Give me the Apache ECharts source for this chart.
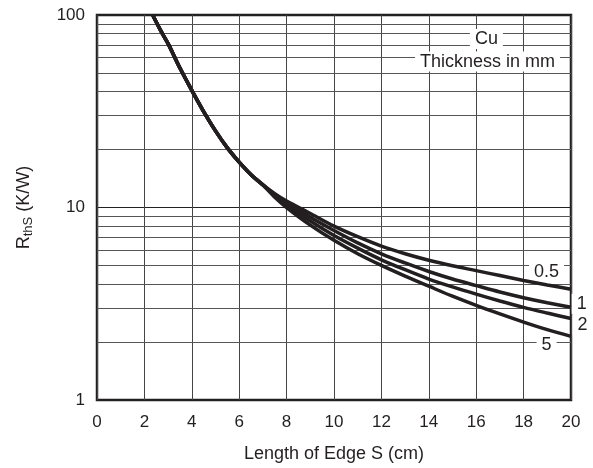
<!DOCTYPE html>
<html>
<head>
<meta charset="utf-8">
<script src="https://cdn.jsdelivr.net/npm/echarts@6/dist/echarts.min.js"></script>
<style>html,body{margin:0;padding:0;background:#fff}#c{width:593px;height:468px}</style>
</head>
<body>
<div id="c"></div>
<script>
// Common part of all curves (x in cm, R in K/W)
const commonX = [2.35, 2.7, 3, 3.5, 4, 4.5, 5, 5.5, 6, 6.5, 7];
const commonY = [100, 82.4, 71, 53, 40.6, 31.5, 25.0, 20.4, 17.2, 14.8, 13.1];
// Split part per thickness
const splitX = [7.5, 8, 9, 10, 11, 12, 13, 14, 15, 16, 17, 18, 19, 20];
const r05 = [11.8, 10.8, 9.3, 8.0, 7.05, 6.3, 5.75, 5.32, 4.98, 4.7, 4.43, 4.18, 3.96, 3.76];
const r1  = [11.7, 10.6, 8.9, 7.6, 6.55, 5.75, 5.15, 4.65, 4.25, 3.93, 3.64, 3.4, 3.2, 3.03];
const r2  = [11.5, 10.3, 8.5, 7.15, 6.15, 5.35, 4.75, 4.25, 3.87, 3.55, 3.27, 3.03, 2.83, 2.65];
const r5  = [11.3, 10.0, 8.1, 6.75, 5.75, 5.0, 4.4, 3.9, 3.46, 3.1, 2.8, 2.54, 2.32, 2.14];
const seriesNames = ['0.5', '1', '2', '5'];
// Minor horizontal grid values on log axis
const minorTicks = [2,3,4,5,6,7,8,9,20,30,40,50,60,70,80,90];
// Annotation labels [x, y, text]
const curveLabels = [[18.97, 4.62, '0.5'], [20.45, 3.16, '1'], [20.49, 2.44, '2'], [18.97, 1.94, '5']];
const titleLabels = [[16.43, 75, 'Cu'], [16.48, 57.3, 'Thickness in mm']];

function build(vals) {
  const d = commonX.map((x, i) => [x, commonY[i]]);
  splitX.forEach((x, i) => d.push([x, vals[i]]));
  return d;
}
const ink = '#231f20';
const font = 'Liberation Sans, Arial, Helvetica, sans-serif';
const chart = echarts.init(document.getElementById('c'));
const curves = [r05, r1, r2, r5].map((v, i) => ({
  name: seriesNames[i], type: 'line', data: build(v), smooth: 0.3,
  symbol: 'none', z: 4, lineStyle: { color: ink, width: 3.5 }
}));
chart.setOption({
  animation: false,
  grid: { left: 97, right: 22, top: 15, bottom: 68, show: true, borderColor: ink, borderWidth: 2.5, backgroundColor: 'transparent' },
  xAxis: {
    type: 'value', min: 0, max: 20, interval: 2,
    name: 'Length of Edge S (cm)', nameLocation: 'middle', nameGap: 45,
    nameTextStyle: { fontSize: 18, color: ink, fontFamily: font },
    axisLine: { show: false }, axisTick: { show: false },
    axisLabel: { fontSize: 17, color: ink, fontFamily: font, margin: 14 },
    splitLine: { show: true, lineStyle: { color: '#444', width: 1 } }
  },
  yAxis: {
    type: 'log', logBase: 10, min: 1, max: 100,
    name: '{r|R}{s|thS}{r| (K/W)}', nameLocation: 'middle', nameGap: 62, nameRotate: 90,
    nameTextStyle: { color: ink, fontFamily: font,
      rich: { r: { fontSize: 18, color: ink, fontFamily: font },
              s: { fontSize: 13, color: ink, fontFamily: font, padding: [8, 0, 0, 0] } } },
    axisLine: { show: false }, axisTick: { show: false },
    axisLabel: { fontSize: 17, color: ink, fontFamily: font, margin: 12 },
    splitLine: { show: true, lineStyle: { color: '#222', width: 1 } }
  },
  series: [
    { type: 'line', data: [], z: 1, silent: true,
      markLine: { silent: true, symbol: 'none', z: 1, label: { show: false },
        lineStyle: { color: '#555', width: 1, type: 'solid' },
        data: minorTicks.map(v => ({ yAxis: v })) } },
    { type: 'scatter', data: curveLabels.concat(titleLabels), symbolSize: 0, z: 3, clip: false, silent: true,
      itemStyle: { opacity: 1 },
      label: { show: true, position: 'inside', formatter: p => p.value[2],
        fontSize: 18, color: ink, fontFamily: font, backgroundColor: '#fff', padding: [1, 5] } },
    ...curves
  ]
});
</script>
</body>
</html>
